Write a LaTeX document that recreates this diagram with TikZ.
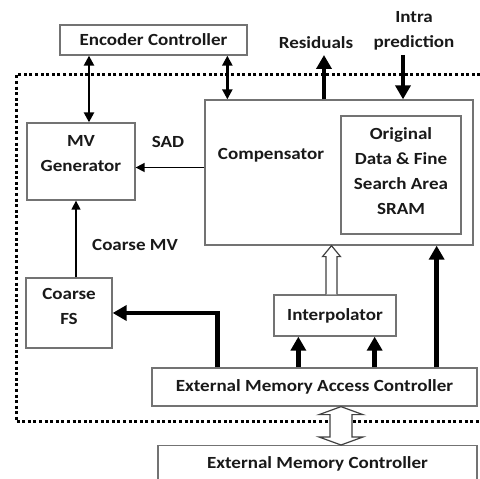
\documentclass[tikz,border=0pt]{standalone}
\usepackage{fontspec}
\setmainfont{Carlito}[FakeStretch=1.12]
\usetikzlibrary{arrows.meta,positioning,calc}
\tikzstyle{txt} = [font=\bfseries\fontsize{17}{25}\selectfont, text=black!90, align=center, inner sep=0pt]
\tikzstyle{block} = [rectangle, draw=black!55, line width=1.3pt, fill=white, txt]
\tikzstyle{line} = [draw, line width=1.6pt, -{Triangle[length=9pt,width=9pt]}]
\tikzstyle{dline} = [draw, line width=2.4pt, {Triangle[length=10pt,width=10pt]}-{Triangle[length=10pt,width=10pt]}]
\tikzstyle{bigline} = [draw, line width=4.8pt, -{Triangle[length=14pt,width=15pt]}]
\tikzstyle{hollow} = [draw=black!75, line width=1.2pt, fill=white]
\tikzstyle{frame} = [draw, line width=3pt, dash pattern=on 3pt off 2.6pt]

\begin{document}
\begin{tikzpicture}[x=1pt, y=1pt]
      \useasboundingbox (0,0) rectangle (480,479);
      % dotted chip border
      \draw [frame] (486,404) -- (16,404) -- (16,57) -- (486,57);
      \node [block, minimum width=187pt, minimum height=30pt] (enc) at (153.5,439) {Encoder Controller};
      \node [block, minimum width=108pt, minimum height=77pt,
             label={[txt, yshift=7.5pt]center:{MV\\Generator}}] (mvgen) at (81,317.5) {};
      \node [block, minimum width=268pt, minimum height=145pt] (comp) at (339,306.5) {};
      \node [txt] (comptxt) at (271,324) {Compensator};
      \node [block, minimum width=120pt, minimum height=118pt,
             label={[txt, yshift=3.5pt]center:{Original\\Data \& Fine\\Search Area\\SRAM}}] (sram) at (401,304) {};
      \node [block, minimum width=86pt, minimum height=70pt,
             label={[txt, yshift=6.5pt]center:{Coarse\\FS}}] (coarse) at (69,166) {};
      \node [block, minimum width=122pt, minimum height=41pt] (interp) at (335,163.5) {Interpolator};
      \node [block, minimum width=325pt, minimum height=38pt] (emac) at (314.5,92) {External Memory Access Controller};
      \node [block, minimum width=319pt, minimum height=36pt, anchor=north] (emc) at (317.5,34) {External Memory Controller};
      \coordinate (resout) at (324,424);
      \coordinate (intrain) at (403,424);
      \node [txt] (reslbl) at (316,436) {Residuals};
      \node [txt] (intralbl) at (414,448.5) {Intra\\prediction};
      \node [txt] (sadlbl) at (168,337) {SAD};
      \node [txt] (cmvlbl) at (135,234) {Coarse MV};
      % Draw edges
      \path [dline] ([xshift=8pt]mvgen.north |- enc.south) -- ([xshift=8pt]mvgen.north);
      \path [dline] ([xshift=23pt]comp.north west |- enc.south) -- ([xshift=23pt]comp.north west);
      \path [bigline] (resout |- comp.north) -- (resout);
      \path [bigline] (intrain) -- (intrain |- comp.north);
      \path [line] ([yshift=-6pt]mvgen.east -| comp.west) -- ([yshift=-6pt]mvgen.east);
      \path [line, line width=1.4pt] ([xshift=7pt]coarse.north) -- ([xshift=7pt]coarse.north |- mvgen.south);
      \path [bigline] ([xshift=66pt]emac.north west) |- (coarse.east);
      \path [bigline] ([xshift=25pt]interp.south west |- emac.north) -- ([xshift=25pt]interp.south west);
      \path [bigline] ([xshift=-22pt]interp.south east |- emac.north) -- ([xshift=-22pt]interp.south east);
      \path [bigline] ([xshift=-37pt]comp.south east |- emac.north) -- ([xshift=-37pt]comp.south east);
      % hollow arrows
      \draw [hollow] let \p1=([xshift=-3.5pt]interp.north), \p2=(comp.south) in
        (\x1-5.5pt,\y1) -- (\x1-5.5pt,\y2-11pt) -- (\x1-9pt,\y2-11pt) -- (\x1,\y2)
        -- (\x1+9pt,\y2-11pt) -- (\x1+5.5pt,\y2-11pt) -- (\x1+5.5pt,\y1);
      \draw [hollow] let \p1=([xshift=26.5pt]emac.south), \p2=(emc.north) in
        (\x1,\y1) -- (\x1+22pt,\y1-8pt) -- (\x1+11pt,\y1-8pt) -- (\x1+11pt,\y2+8pt)
        -- (\x1+22pt,\y2+8pt) -- (\x1,\y2) -- (\x1-22pt,\y2+8pt) -- (\x1-11pt,\y2+8pt)
        -- (\x1-11pt,\y1-8pt) -- (\x1-22pt,\y1-8pt) -- cycle;
  \end{tikzpicture}
\end{document}
